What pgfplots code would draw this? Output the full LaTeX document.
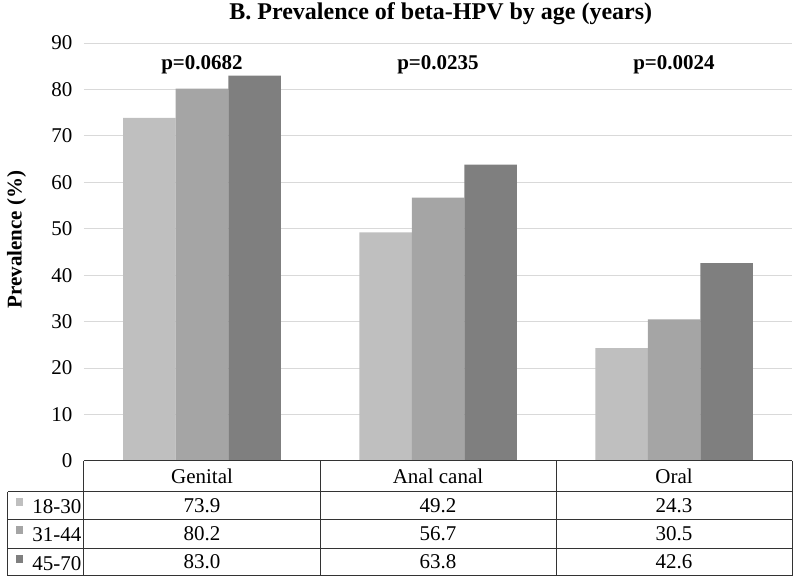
\documentclass[border=0pt]{standalone}
\usepackage{fontspec}
\setmainfont{Liberation Serif}
\usepackage{pgfplots}
\pgfplotsset{compat=1.18}

\definecolor{barA}{HTML}{BFBFBF}
\definecolor{barB}{HTML}{A5A5A5}
\definecolor{barC}{HTML}{7F7F7F}
\definecolor{gridc}{HTML}{D9D9D9}

\newcommand{\fs}{\fontsize{21}{24}\selectfont}

\begin{document}
\begin{tikzpicture}
\useasboundingbox (-84pt,-122pt) rectangle (716pt,461pt);
\begin{axis}[
    name=ax,
    at={(0,0)}, anchor=south west,
    scale only axis,
    width=708pt, height=418pt,
    ybar=0pt, bar width=52.5pt,
    xmin=-0.5, xmax=2.5,
    ymin=0, ymax=90,
    ytick={0,10,...,90},
    xtick=\empty,
    axis line style={draw=none},
    major tick style={draw=none},
    ymajorgrids=true,
    grid style={gridc, line width=1pt},
    /pgf/number format/assume math mode=true,
    yticklabel style={font=\fs, xshift=-8pt},
    ylabel={\textbf{Prevalence (\%)}},
    every axis y label/.style={at={(axis description cs:-0.0953,0.53)}, rotate=90, anchor=center, font=\fs},
    title={\textbf{B. Prevalence of beta-HPV by age (years)}},
    title style={at={(axis description cs:0.504,1)}, anchor=base, yshift=18pt, font=\fontsize{24}{27}\selectfont},
    clip=false,
    legend columns=1,
    legend style={
        at={(axis description cs:-0.0965,-0.0878)}, anchor=north west,
        draw=none, fill=none, inner sep=0pt, outer sep=0pt,
        row sep=10pt, column sep=9.3pt,
        nodes={inner sep=0pt, text height=15pt, text depth=3pt, font=\fs},
    },
    legend cell align=left,
    legend image code/.code={\fill[#1,draw=none] (0pt,1.7pt) rectangle (7.5pt,9.6pt);},
]
\addplot[fill=barA, draw=none] coordinates {(0,73.9) (1,49.2) (2,24.3)};
\addplot[fill=barB, draw=none] coordinates {(0,80.2) (1,56.7) (2,30.5)};
\addplot[fill=barC, draw=none] coordinates {(0,83.0) (1,63.8) (2,42.6)};
\legend{18-30,31-44,45-70}

\node[anchor=base, font=\fs\bfseries] at (axis cs:0,84.2) {p=0.0682};
\node[anchor=base, font=\fs\bfseries] at (axis cs:1,84.2) {p=0.0235};
\node[anchor=base, font=\fs\bfseries] at (axis cs:2,84.2) {p=0.0024};
\end{axis}

% data table under the bars
\begin{scope}[line width=1pt, black!80]
  \draw (0pt,0pt) -- (708pt,0pt);
  \draw (-76pt,-31pt) -- (708pt,-31pt);
  \draw (-76pt,-59pt) -- (708pt,-59pt);
  \draw (-76pt,-87pt) -- (708pt,-87pt);
  \draw (-76pt,-114.5pt) -- (708pt,-114.5pt);
  \draw (-76pt,-31pt) -- (-76pt,-114.5pt);
  \foreach \x in {0,236,472,708} \draw (\x pt,0pt) -- (\x pt,-114.5pt);
\end{scope}
\begin{scope}[every node/.style={anchor=base, font=\fs, inner sep=0pt}]
  \node at (118pt,-23pt) {Genital};
  \node at (354pt,-23pt) {Anal canal};
  \node at (590pt,-23pt) {Oral};
  \node at (118pt,-51.7pt) {73.9};
  \node at (354pt,-51.7pt) {49.2};
  \node at (590pt,-51.7pt) {24.3};
  \node at (118pt,-79.7pt) {80.2};
  \node at (354pt,-79.7pt) {56.7};
  \node at (590pt,-79.7pt) {30.5};
  \node at (118pt,-107.5pt) {83.0};
  \node at (354pt,-107.5pt) {63.8};
  \node at (590pt,-107.5pt) {42.6};
\end{scope}
\end{tikzpicture}
\end{document}
